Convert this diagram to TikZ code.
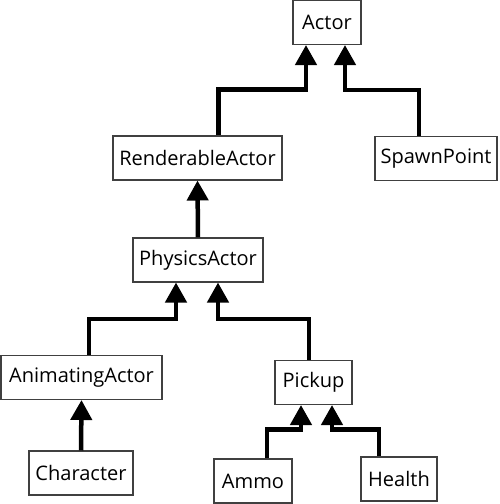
\documentclass[tikz,border=0pt]{standalone}
\usepackage{fontspec}
\setmainfont{Open Sans}
\usetikzlibrary{arrows.meta,calc}
\begin{document}
\begin{tikzpicture}[
			x=0.02cm, y=-0.02cm,
			class/.style={draw=black!75, line width=0.6pt, fill=white, inner sep=0pt,
					font=\fontsize{11.4}{13}\selectfont, minimum height=0.88cm},
			inh/.style={line width=0.09cm, -{Triangle[width=0.42cm,length=0.40cm]}}
		]
		\useasboundingbox (0,0) rectangle (500,504);
		% classes
		\node[class, minimum width=1.36cm] (actor) at (327,22.5) {Actor};
		\node[class, minimum width=3.38cm] (rend) at (197.5,158) {RenderableActor};
		\node[class, minimum width=2.44cm] (spawn) at (436,158.5) {SpawnPoint};
		\node[class, minimum width=2.60cm] (phys) at (198,260) {PhysicsActor};
		\node[class, minimum width=3.22cm] (anim) at (81.5,377.5) {AnimatingActor};
		\node[class, minimum width=1.54cm] (pickup) at (313.5,382.5) {Pickup};
		\node[class, minimum width=2.08cm] (char) at (81,473) {Character};
		\node[class, minimum width=1.56cm] (ammo) at (253,481) {Ammo};
		\node[class, minimum width=1.52cm] (health) at (399,479) {Health};
		% inheritance
		\draw[inh] ($(rend.north)+(21,0)$) -- ++(0,-46) -| ($(actor.south)+(-21,0)$);
		\draw[inh] ($(spawn.north)+(-17,0)$) -- ++(0,-46) -| ($(actor.south)+(18,0)$);
		\draw[inh] (phys.north) -- (rend.south);
		\draw[inh] ($(anim.north)+(7.5,0)$) -- ++(0,-36) -| ($(phys.south)+(-22,0)$);
		\draw[inh] ($(pickup.north)+(-4.5,0)$) -- ++(0,-41) -| ($(phys.south)+(20,0)$);
		\draw[inh] (char.north) -- (anim.south);
		\draw[inh] ($(ammo.north)+(14,0)$) -- ++(0,-29) -| ($(pickup.south)+(-12.5,0)$);
		\draw[inh] ($(health.north)+(-20,0)$) -- ++(0,-27) -| ($(pickup.south)+(18.5,0)$);
	\end{tikzpicture}
\end{document}
